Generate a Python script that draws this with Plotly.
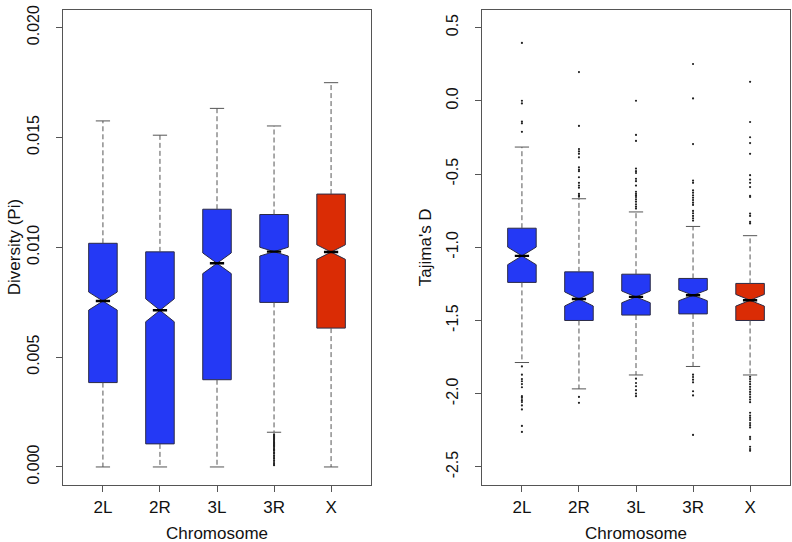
import plotly.graph_objects as go

# ---------------- data ----------------
chromosomes = ["2L", "2R", "3L", "3R", "X"]
box_colors = ["#2439F5", "#2439F5", "#2439F5", "#2439F5", "#DA2C05"]

# Diversity (Pi)
pi_q1 = [0.00384, 0.00105, 0.00397, 0.00749, 0.00632]
pi_median = [0.00755, 0.00713, 0.00927, 0.00980, 0.00978]
pi_q3 = [0.01018, 0.00979, 0.01173, 0.01149, 0.01242]
pi_lower = [0.0, 0.0, 0.0, 0.00158, 0.0]
pi_upper = [0.01575, 0.01510, 0.01632, 0.01552, 0.01749]
pi_notch = [0.00041, 0.00052, 0.00047, 0.00020, 0.00033]
pi_outliers = [
    [],
    [],
    [],
    [0.00148, 0.00143, 0.00138, 0.00133, 0.00128, 0.00123, 0.00118, 0.00113,
     0.00108, 0.00103, 0.00098, 0.00092, 0.00086, 0.00080, 0.00074, 0.00067,
     0.00060, 0.00052, 0.00045, 0.00038, 0.00030, 0.00022, 0.00014, 0.00008],
    [],
]
pi_ticks = [0.0, 0.005, 0.010, 0.015, 0.020]
pi_ticktext = ["0.000", "0.005", "0.010", "0.015", "0.020"]

# Tajima's D
td_q1 = [-1.240, -1.500, -1.463, -1.455, -1.500]
td_median = [-1.059, -1.353, -1.339, -1.328, -1.362]
td_q3 = [-0.870, -1.168, -1.184, -1.213, -1.247]
td_lower = [-1.787, -1.967, -1.872, -1.814, -1.872]
td_upper = [-0.316, -0.669, -0.759, -0.858, -0.921]
td_notch = [0.060, 0.048, 0.040, 0.037, 0.040]
td_outliers = [
    [0.395, 0.0, -0.018, -0.142, -0.154, -0.212,
     -1.814, -1.870, -1.900, -1.915, -1.934, -1.956, -2.017, -2.028, -2.044,
     -2.057, -2.080, -2.107, -2.220, -2.261],
    [0.196, -0.172, -0.330, -0.346, -0.362, -0.386, -0.454, -0.470, -0.481,
     -0.522, -0.560, -0.579, -0.594, -0.635, -0.646, -0.655,
     -2.022, -2.062],
    [0.0, -0.233, -0.274, -0.463, -0.481, -0.493, -0.533, -0.549, -0.579,
     -0.621, -0.635, -0.646, -0.657, -0.673, -0.689, -0.707, -0.723, -0.736,
     -1.897, -1.927, -1.949, -1.976, -1.999, -2.017],
    [0.251, 0.016, -0.296, -0.545, -0.560, -0.612, -0.628, -0.646, -0.662,
     -0.678, -0.696, -0.711, -0.752, -0.768, -0.786, -0.802, -0.818,
     -1.870, -1.886, -1.904, -1.922, -1.983, -2.012, -2.281],
    [0.129, -0.145, -0.249, -0.289, -0.362, -0.508, -0.538, -0.560, -0.589,
     -0.650, -0.657, -0.770, -0.786, -0.827, -0.838,
     -1.885, -1.900, -1.917, -1.935, -1.953, -1.970, -1.988, -2.005, -2.023,
     -2.040, -2.058, -2.130, -2.150, -2.165, -2.180, -2.200, -2.215, -2.230,
     -2.295, -2.310, -2.362, -2.378, -2.390],
]
td_ticks = [0.5, 0.0, -0.5, -1.0, -1.5, -2.0, -2.5]
td_ticktext = ["0.5", "0.0", "-0.5", "-1.0", "-1.5", "-2.0", "-2.5"]

# ---------------- style ----------------
FONT = "Liberation Sans, Arial, Helvetica, sans-serif"
TEXT = "#111111"
GREY = "#555555"
BORDER = "#2b2b45"
BOX_W = 0.5
NOTCH_FRAC = 0.5
STAPLE_HALF = BOX_W * 0.5 / 2

W, H = 792, 542
PLOT_TOP, PLOT_BOTTOM = 5, 484
PANELS = [(63, 371), (482, 790)]

fig = go.Figure()


def add_panel(xa, ya, q1, med, q3, lo, hi, notch, outliers):
    for i, name in enumerate(chromosomes):
        p = i + 1
        # whiskers (dashed)
        fig.add_trace(go.Scatter(
            x=[p, p, None, p, p], y=[q3[i], hi[i], None, q1[i], lo[i]],
            mode="lines", line=dict(color=GREY, width=1, dash="5px,3px"),
            xaxis=xa, yaxis=ya, showlegend=False, hoverinfo="skip"))
        # staples
        fig.add_trace(go.Scatter(
            x=[p - STAPLE_HALF, p + STAPLE_HALF, None, p - STAPLE_HALF, p + STAPLE_HALF],
            y=[hi[i], hi[i], None, lo[i], lo[i]],
            mode="lines", line=dict(color=GREY, width=1),
            xaxis=xa, yaxis=ya, showlegend=False, hoverinfo="skip"))
        # notched box
        fig.add_trace(go.Box(
            x=[p], q1=[q1[i]], median=[med[i]], q3=[q3[i]],
            lowerfence=[q1[i]], upperfence=[q3[i]], notchspan=[notch[i]],
            notched=True, notchwidth=NOTCH_FRAC, width=BOX_W, whiskerwidth=0,
            fillcolor=box_colors[i], line=dict(color=BORDER, width=1),
            boxpoints=False, name=name, xaxis=xa, yaxis=ya,
            showlegend=False, hoverinfo="skip"))
        # median (thick)
        mh = BOX_W / 2 * NOTCH_FRAC
        fig.add_trace(go.Scatter(
            x=[p - mh, p + mh], y=[med[i], med[i]], mode="lines",
            line=dict(color="black", width=2.4),
            xaxis=xa, yaxis=ya, showlegend=False, hoverinfo="skip"))
        # outliers
        if outliers[i]:
            fig.add_trace(go.Scatter(
                x=[p] * len(outliers[i]), y=outliers[i], mode="markers",
                marker=dict(color="#222222", size=2.2),
                xaxis=xa, yaxis=ya, showlegend=False, hoverinfo="skip"))


add_panel("x", "y", pi_q1, pi_median, pi_q3, pi_lower, pi_upper, pi_notch, pi_outliers)
add_panel("x2", "y2", td_q1, td_median, td_q3, td_lower, td_upper, td_notch, td_outliers)

ydom = [1 - PLOT_BOTTOM / H, 1 - PLOT_TOP / H]


def xaxis_cfg(px, anchor):
    return dict(domain=[px[0] / W, px[1] / W], range=[0.3, 5.7], anchor=anchor,
                tickvals=[1, 2, 3, 4, 5], ticktext=chromosomes,
                ticks="outside", ticklen=6, tickcolor=GREY, tickwidth=1,
                showline=True, mirror=True, linecolor=GREY, linewidth=1,
                showgrid=False, zeroline=False, ticklabelstandoff=1,
                tickfont=dict(family=FONT, size=17, color=TEXT))


def yaxis_cfg(anchor, rng, vals, text):
    return dict(domain=ydom, range=rng, tickvals=vals, ticktext=text,
                tickangle=-90, anchor=anchor,
                ticks="outside", ticklen=6, tickcolor=GREY, tickwidth=1,
                showline=True, mirror=True, linecolor=GREY, linewidth=1,
                showgrid=False, zeroline=False, ticklabelstandoff=11,
                tickfont=dict(family=FONT, size=16, color=TEXT))


fig.update_layout(
    width=W, height=H, margin=dict(l=0, r=0, t=0, b=0),
    paper_bgcolor="white", plot_bgcolor="white",
    xaxis=xaxis_cfg(PANELS[0], "y"), xaxis2=xaxis_cfg(PANELS[1], "y2"),
    yaxis=yaxis_cfg("x", [-0.0008, 0.0208], pi_ticks, pi_ticktext),
    yaxis2=yaxis_cfg("x2", [-2.62, 0.62], td_ticks, td_ticktext),
    font=dict(family=FONT, size=16, color=TEXT),
)

title_y = (PLOT_TOP + PLOT_BOTTOM) / 2
annotations = [
    dict(text="Chromosome", x=(PANELS[0][0] + PANELS[0][1]) / 2 / W, y=1 - 533 / H),
    dict(text="Chromosome", x=(PANELS[1][0] + PANELS[1][1]) / 2 / W, y=1 - 533 / H),
    dict(text="Diversity (Pi)", x=14 / W, y=1 - title_y / H, textangle=-90),
    dict(text="Tajima's D", x=425 / W, y=1 - title_y / H, textangle=-90),
]
for a in annotations:
    fig.add_annotation(xref="paper", yref="paper", showarrow=False,
                       xanchor="center", yanchor="middle",
                       font=dict(family=FONT, size=17, color=TEXT), **a)

fig.write_html(
    "out.html",
    config={"displayModeBar": False},
    post_script="document.body.style.margin='0px';document.body.style.overflow='hidden';",
)
